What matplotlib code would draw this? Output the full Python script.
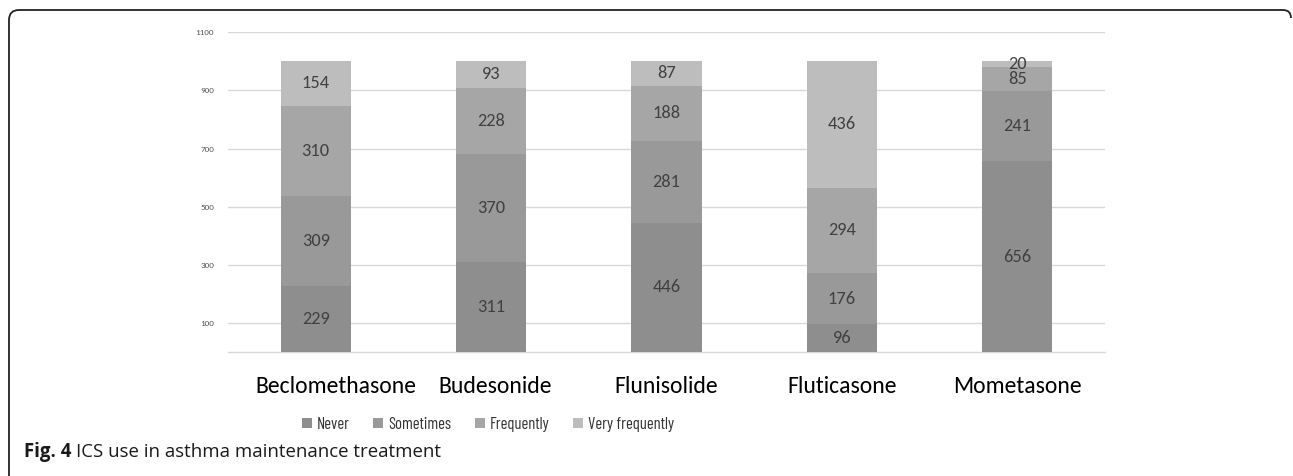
import matplotlib
matplotlib.use("Agg")
import matplotlib.pyplot as plt
from matplotlib.path import Path
from matplotlib.patches import PathPatch, Patch
from matplotlib.transforms import ScaledTranslation
from matplotlib import font_manager
import numpy as np

# ICS products and how often each is used in maintenance treatment
drugs = ["Beclomethasone", "Budesonide", "Flunisolide", "Fluticasone", "Mometasone"]
never = [229, 311, 446, 96, 656]
sometimes = [309, 370, 281, 176, 241]
frequently = [310, 228, 188, 294, 85]
very_frequently = [154, 93, 87, 436, 20]

series_names = ["Never", "Sometimes", "Frequently", "Very frequently"]
series_values = [never, sometimes, frequently, very_frequently]
series_colors = ["#8e8e8e", "#999999", "#a6a6a6", "#bdbdbd"]

y_ticks = [100, 300, 500, 700, 900, 1100]

installed = {f.name for f in font_manager.fontManager.ttflist}


def pick(*cands):
    for c in cands:
        if c in installed:
            return c
    return "DejaVu Sans"


body_font = pick("Carlito", "Lato")
narrow_font = pick("Barlow Condensed", "Roboto Condensed", "Archivo Narrow", "Lato")
caption_font = pick("Open Sans", "Noto Sans")
calibri = body_font == "Carlito"
legend_size = 12 if narrow_font == "Barlow Condensed" else 9.5

W, H, DPI = 12.93, 4.76, 100
fig = plt.figure(figsize=(W, H), dpi=DPI)
fig.patch.set_facecolor("white")

ax = fig.add_axes([228 / 1293, 1 - 352.3 / 476, 877 / 1293, 320 / 476])
ax.set_xlim(-0.5, len(drugs) - 0.5)
ax.set_ylim(0, 1100)

x = np.arange(len(drugs))
bottom = np.zeros(len(drugs))
bar_containers = []
for name, vals, col in zip(series_names, series_values, series_colors):
    bc = ax.bar(x, vals, width=0.4, bottom=bottom, color=col, label=name,
                edgecolor="none", zorder=3)
    bar_containers.append(bc)
    bottom = bottom + np.array(vals)

# value labels centred in each segment
for bc, vals in zip(bar_containers, series_values):
    ax.bar_label(bc, labels=[str(v) for v in vals], label_type="center",
                 fontsize=13.2 if calibri else 11.7, color="#404040",
                 family=body_font)

ax.set_yticks(y_ticks)
ax.set_yticklabels([str(t) for t in y_ticks], fontsize=6.5 if calibri else 6,
                   color="#595959", family=body_font)
ax.tick_params(axis="y", length=0, pad=10)
ax.yaxis.grid(True, color="#d9d9d9", linewidth=1, zorder=0)
ax.set_axisbelow(True)

ax.set_xticks(x)
ax.set_xticklabels(drugs, fontsize=17 if calibri else 15.5, color="#000000",
                   family=body_font)
ax.tick_params(axis="x", length=0, pad=17)

# the long first category name sits slightly right of its bar
label_shift_px = [20, 4, 0, 0, 0]
for lbl, dx in zip(ax.get_xticklabels(), label_shift_px):
    lbl.set_transform(lbl.get_transform()
                      + ScaledTranslation(dx / DPI, 0, fig.dpi_scale_trans))

for side in ("top", "right", "left"):
    ax.spines[side].set_visible(False)
ax.spines["bottom"].set_color("#d9d9d9")
ax.spines["bottom"].set_linewidth(1)

handles = [Patch(facecolor=c, edgecolor="none") for c in series_colors]
fig.legend(handles, series_names, loc="center left",
           bbox_to_anchor=(302 / 1293, 1 - 424.5 / 476), ncol=4, frameon=False,
           prop={"family": narrow_font, "size": legend_size, "weight": "normal"},
           labelcolor="#333333", handlelength=0.6, handleheight=0.6,
           handletextpad=0.3, columnspacing=1.4, borderpad=0,
           borderaxespad=0)

# caption: bold figure number followed by the title
cap_y = 1 - 452 / 476
fig_no = fig.text(24 / 1293, cap_y, "Fig. 4", fontsize=13.4, fontweight="bold",
                  family=caption_font, va="center", ha="left", color="#1a1a1a")
renderer = fig.canvas.get_renderer()
x_end = fig_no.get_window_extent(renderer).x1
fig.text((x_end + 5) / 1293, cap_y, "ICS use in asthma maintenance treatment",
         fontsize=13.4, family=caption_font, va="center", ha="left",
         color="#1a1a1a")

# frame: left and top edge with rounded corners
def px(xp, yp):
    return (xp / DPI, (476 - yp) / DPI)

verts = [px(9, 476), px(9, 20), px(9, 10), px(19, 10), px(1283, 10),
         px(1291, 10), px(1291, 18)]
codes = [Path.MOVETO, Path.LINETO, Path.CURVE3, Path.CURVE3, Path.LINETO,
         Path.CURVE3, Path.CURVE3]
frame = PathPatch(Path(verts, codes), facecolor="none", edgecolor="#222222",
                  linewidth=1.3, transform=fig.dpi_scale_trans)
fig.patches.append(frame)

fig.savefig("out.png", dpi=DPI, facecolor="white")
